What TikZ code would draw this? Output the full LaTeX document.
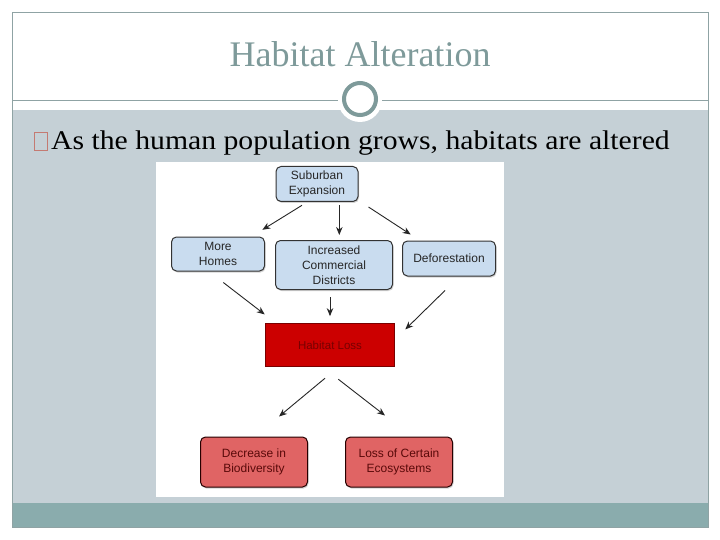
\documentclass[tikz,border=0pt]{standalone}
\usepackage{fontspec}
\setmainfont{Liberation Serif}
\newfontfamily\diagfont{Liberation Sans}
\newfontfamily\bodyfont[FakeStretch=1.1]{Liberation Serif}
\usetikzlibrary{calc,arrows.meta,shadows}
\definecolor{titlecol}{HTML}{7E9A9A}
\definecolor{framecol}{HTML}{8FA3A4}
\definecolor{contentbg}{HTML}{C5D0D6}
\definecolor{bandcol}{HTML}{8AACAD}
\definecolor{bluefill}{HTML}{C9DCEF}
\definecolor{redfill}{HTML}{E06464}
\definecolor{redtext}{HTML}{5A0A0A}
\definecolor{hlfill}{HTML}{CC0000}
\definecolor{hlborder}{HTML}{7A0000}
\definecolor{hltext}{HTML}{780000}
\definecolor{bulletcol}{HTML}{C47A72}
\tikzset{
  box/.style={draw=black!80, line width=1pt, rounded corners=5pt, align=center,
    font=\diagfont\fontsize{12}{15}\selectfont, inner sep=2pt,
    drop shadow={shadow xshift=1pt, shadow yshift=-1.5pt, opacity=0.35}},
  bluebox/.style={box, fill=bluefill, text=black!85},
  redbox/.style={box, fill=redfill, text=redtext, draw=black!85!red},
  hlbox/.style={draw=hlborder, line width=1.5pt, fill=hlfill, text=hltext,
    font=\diagfont\fontsize{11.5}{13}\selectfont},
  arr/.style={-{Stealth[length=8pt,width=6.5pt]}, line width=0.9pt, draw=black!85},
}
\begin{document}
\begin{tikzpicture}[x=1pt,y=-1pt]
\useasboundingbox (0,0) rectangle (720,540);
\fill[white] (0,0) rectangle (720,540);
% slide background
\fill[contentbg] (12,110) rectangle (708,503);
\fill[bandcol] (12,503) rectangle (708,527);
\draw[framecol, line width=0.8pt] (12,12) rectangle (708,527);
\draw[framecol, line width=0.8pt] (12,100) -- (708,100);
\fill[white] (360,100) circle (22);
\draw[titlecol, line width=4pt, fill=white] (360,99) circle (16);
\node[anchor=base, text=titlecol, font=\fontsize{36}{40}\selectfont, inner sep=0] (title) at (360,66.7) {Habitat Alteration};
% bullet
\node[draw=bulletcol, line width=1pt, minimum width=13pt, minimum height=18pt, inner sep=0] (bul) at (41,142) {};
\node[anchor=base west, font=\bodyfont\fontsize{27}{30}\selectfont, inner sep=0] (btext) at (51,149.5) {As the human population grows, habitats are altered};
% picture area
\fill[white] (156,162) rectangle (504,497);
% nodes
\node[bluebox, minimum width=82pt, minimum height=35pt] (sub) at (317,184) {Suburban\\Expansion};
\node[bluebox, minimum width=93pt, minimum height=34pt] (homes) at (218,254) {More\\Homes};
\node[bluebox, minimum width=117pt, minimum height=49pt] (inc) at (334,265) {Increased\\Commercial\\Districts};
\node[bluebox, minimum width=93pt, minimum height=35pt] (def) at (449,258.5) {Deforestation};
\node[hlbox, minimum width=129pt, minimum height=43pt] (hl) at (330,345) {Habitat Loss};
\node[redbox, minimum width=107pt, minimum height=50pt] (dec) at (254,462) {Decrease in\\Biodiversity};
\node[redbox, minimum width=107pt, minimum height=50pt] (loss) at (399,462) {Loss of Certain\\Ecosystems};
% connectors
\draw[arr] ([shift={(-15,3.3)}]sub.south) -- ([shift={(-2.6,-6.7)}]homes.north east);
\draw[arr] ([shift={(22.3,3.3)}]sub.south) -- ([shift={(5.3,-5)}]inc.north);
\draw[arr] ([shift={(10,5)}]sub.south east) -- ([shift={(8.7,-6)}]def.north west);
\draw[arr] ([shift={(5.3,11)}]homes.south) -- ([shift={(0,-8.3)}]hl.north west);
\draw[arr] ([shift={(-4,7.4)}]inc.south) -- ([shift={(0,-6.6)}]hl.north);
\draw[arr] ([shift={(-4,14)}]def.south) -- ([shift={(10,6.7)}]hl.north east);
\draw[arr] ([shift={(-5,11)}]hl.south) -- ([shift={(25,-20)}]dec.north);
\draw[arr] ([shift={(8.3,12)}]hl.south) -- ([shift={(-14,-21)}]loss.north);
\end{tikzpicture}
\end{document}
